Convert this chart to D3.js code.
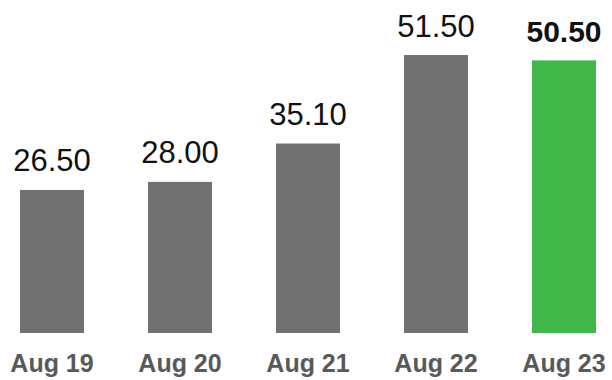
<!DOCTYPE html>
<html>
<head>
<meta charset="utf-8">
<script src="https://cdn.jsdelivr.net/npm/d3@7"></script>
<style>
  body { margin: 0; background: #fff; }
  text { font-family: "Liberation Sans", Arial, sans-serif; }
</style>
</head>
<body>
<div id="chart"></div>
<script>
'use strict';

// data ---------------------
const days   = ['Aug 19', 'Aug 20', 'Aug 21', 'Aug 22', 'Aug 23']
const prices = [26.50, 28.00, 35.10, 51.50, 50.50]
const latest = 'Aug 23'   // highlighted bar

// sizes / colours
const width       = 612
const height      = 380
const bar_color   = '#717171'
const hi_color    = '#41b649'
const axis_color  = '#58595b'

var svg = d3.select('#chart').append('svg')
    .attr('width', width)
    .attr('height', height)

var x = d3.scaleBand()
    .domain(days)
    .range([20, 596])
    .paddingInner(0.5)
    .paddingOuter(0)

var y = d3.scaleLinear()
    .domain([0, d3.max(prices)])
    .range([333, 55])

var rows = days.map(function(d, i) { return {day: d, value: prices[i]} })

// BARS
svg.append('g').selectAll('rect')
    .data(rows)
    .enter().append('rect')
    .attr('x', function(d) { return x(d.day) })
    .attr('y', function(d) { return y(d.value) })
    .attr('width', x.bandwidth())
    .attr('height', function(d) { return y(0) - y(d.value) })
    .attr('fill', function(d) { return d.day == latest ? hi_color : bar_color })

// VALUE LABELS
svg.append('g').selectAll('text')
    .data(rows)
    .enter().append('text')
    .attr('x', function(d) { return x(d.day) + x.bandwidth() / 2 })
    .attr('y', function(d) { return y(d.value) - 18.5 })
    .attr('text-anchor', 'middle')
    .attr('font-size', function(d) { return d.day == latest ? 30 : 31 })
    .attr('font-weight', function(d) { return d.day == latest ? 'bold' : 'normal' })
    .attr('fill', '#111')
    .text(function(d) { return d.value.toFixed(2) })

// X AXIS (labels only)
var xAxis = svg.append('g')
    .attr('transform', 'translate(0,' + y(0) + ')')
    .call(d3.axisBottom(x).tickSize(0).tickPadding(0))

xAxis.select('.domain').remove()
xAxis.selectAll('text')
    .attr('dy', null)
    .attr('y', 39)
    .attr('font-size', 25)
    .attr('font-weight', 'bold')
    .attr('font-family', '"Liberation Sans", Arial, sans-serif')
    .attr('fill', axis_color)
</script>
</body>
</html>
